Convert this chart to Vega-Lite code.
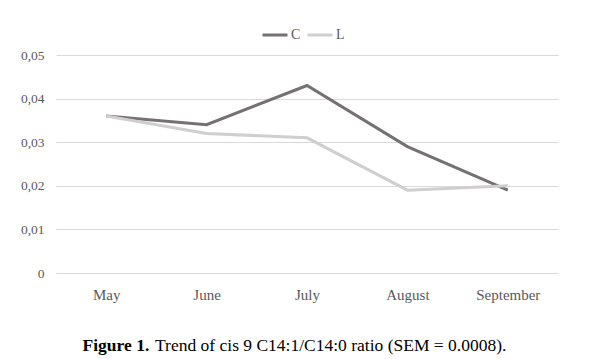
{
  "$schema": "https://vega.github.io/schema/vega-lite/v6.json",
  "width": 502,
  "height": 218,
  "autosize": {"type": "none"},
  "padding": {"left": 56, "top": 55, "right": 32, "bottom": 86},
  "background": "white",
  "config": {
    "view": {"stroke": null},
    "font": "Liberation Serif"
  },
  "title": {
    "text": "Trend of cis 9 C14:1/C14:0 ratio (SEM = 0.0008).",
    "orient": "bottom",
    "anchor": "start",
    "frame": "group",
    "font": "Liberation Serif",
    "fontSize": 17.5,
    "fontWeight": "normal",
    "color": "#000000",
    "baseline": "alphabetic",
    "offset": 0,
    "dx": 99,
    "dy": -3
  },
  "data": {
    "values": [
      {"month": "May", "group": "C", "value": 0.036},
      {"month": "June", "group": "C", "value": 0.034},
      {"month": "July", "group": "C", "value": 0.043},
      {"month": "August", "group": "C", "value": 0.029},
      {"month": "September", "group": "C", "value": 0.019},
      {"month": "May", "group": "L", "value": 0.036},
      {"month": "June", "group": "L", "value": 0.032},
      {"month": "July", "group": "L", "value": 0.031},
      {"month": "August", "group": "L", "value": 0.019},
      {"month": "September", "group": "L", "value": 0.020}
    ]
  },
  "mark": {"type": "line", "strokeWidth": 3},
  "encoding": {
    "x": {
      "field": "month",
      "type": "nominal",
      "sort": ["May", "June", "July", "August", "September"],
      "scale": {"type": "point", "padding": 0.5},
      "axis": {
        "title": "Figure 1.",
        "titleX": 26,
        "titleY": 77,
        "titleAlign": "left",
        "titleAnchor": null,
        "titleBaseline": "alphabetic",
        "titleFont": "Liberation Serif",
        "titleFontSize": 17.5,
        "titleFontWeight": "bold",
        "titleColor": "#000000",
        "labelAngle": 0,
        "labelFont": "Liberation Serif",
        "labelFontSize": 15,
        "labelColor": "#595959",
        "labelBaseline": "alphabetic",
        "labelPadding": 26,
        "domain": false,
        "ticks": false,
        "tickSize": 0,
        "grid": false
      }
    },
    "y": {
      "field": "value",
      "type": "quantitative",
      "scale": {"domain": [0, 0.05], "nice": false, "zero": true},
      "axis": {
        "title": null,
        "values": [0, 0.01, 0.02, 0.03, 0.04, 0.05],
        "labelExpr": "datum.value == 0 ? '0' : replace(format(datum.value, '.2f'), '.', ',')",
        "labelFont": "Liberation Serif",
        "labelFontSize": 13.5,
        "labelColor": "#595959",
        "labelPadding": 12,
        "domain": false,
        "ticks": false,
        "tickSize": 0,
        "grid": true,
        "gridColor": "#d9d9d9",
        "gridWidth": 1
      }
    },
    "color": {
      "field": "group",
      "type": "nominal",
      "scale": {"domain": ["C", "L"], "range": ["#767171", "#d0cece"]},
      "legend": {
        "title": null,
        "orient": "none",
        "direction": "horizontal",
        "legendX": 205,
        "legendY": -34,
        "symbolType": "stroke",
        "symbolSize": 625,
        "symbolStrokeWidth": 3,
        "labelFont": "Liberation Serif",
        "labelFontSize": 14,
        "labelColor": "#595959",
        "labelOffset": 2,
        "columnPadding": 0
      }
    }
  }
}
